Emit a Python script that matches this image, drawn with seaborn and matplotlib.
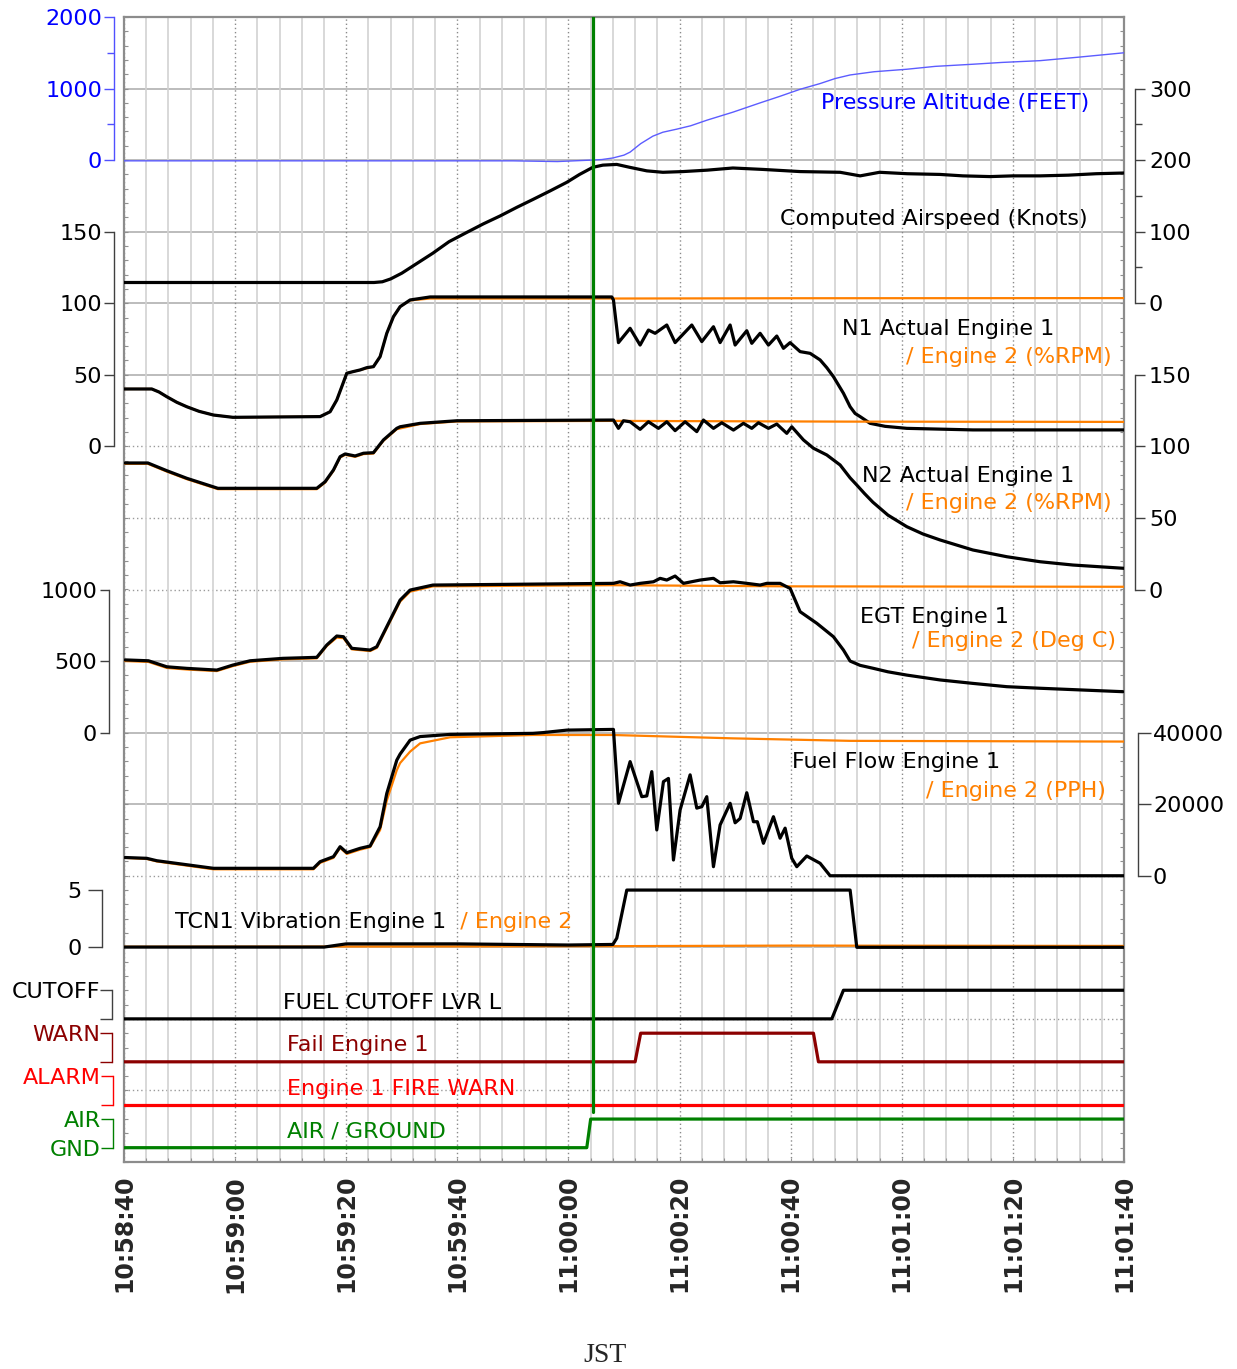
import matplotlib
matplotlib.use("Agg")
import matplotlib.pyplot as plt
import seaborn as sns
from matplotlib.ticker import MultipleLocator, NullLocator

# time in seconds after 10:58:40 JST
tick_secs = [0, 20, 40, 60, 80, 100, 120, 140, 160, 180]
tick_labels = ["10:58:40", "10:59:00", "10:59:20", "10:59:40", "11:00:00",
               "11:00:20", "11:00:40", "11:01:00", "11:01:20", "11:01:40"]
event_t = 84.4  # lift-off marker

# pressure altitude (feet)
alt_t = [0, 40, 70, 78, 84, 86, 88, 90, 91.1, 93, 95.2, 97, 99.5, 102, 105, 109.6, 114.5,
         118, 121.7, 125.3, 128, 130.7, 135, 140.9, 146, 152.8, 158, 164.9, 172, 180]
alt_ft = [-10, -10, -10, -20, 0, 8, 30, 70, 112, 230, 335, 390, 433, 480, 560, 670, 800,
          890, 990, 1070, 1140, 1190, 1235, 1270, 1310, 1340, 1365, 1390, 1440, 1500]

# computed airspeed (knots)
cas_t = [0, 45, 46.5, 48, 50, 52, 55.6, 58.5, 61.7, 64.7, 67.7, 70.7, 73.6, 76.7, 79.7, 82,
         84.4, 86.2, 88.7, 91, 94.1, 97, 100.6, 105, 109.6, 115, 121.7, 128.9, 132.5, 136,
         141, 146.9, 151, 155.9, 160, 164.9, 170, 175, 180]
cas_kt = [29, 29, 30, 34, 42, 52, 70, 86, 99, 111, 122, 134, 145, 157, 169, 180,
          190, 193, 194, 190, 185, 183, 184, 186, 189, 187, 184, 183, 178, 183,
          181, 180, 178, 177, 178, 178, 179, 181, 182]

# N1 (%RPM)
n1_t = [0, 5, 6.3, 7.7, 9.5, 11.3, 13.5, 16.1, 19.6, 35.3, 37.1, 38.3, 39.2, 40.1, 41.2,
        42.5, 43.7, 44.9, 46.1, 47.3, 48.5, 49.7, 51.5, 55.1, 87.8, 88.1, 89.0, 91.1, 92.9,
        94.4, 95.6, 97.7, 99.2, 102.2, 104.0, 106.1, 107.3, 109.1, 110.0, 112.1, 113.0,
        114.5, 116.0, 117.5, 118.7, 119.9, 121.7, 123.5, 125.3, 126.5, 127.7, 129.5, 130.7,
        131.6, 132.5, 134.3, 137, 140.9, 152.8, 180]
n1_e1 = [40.1, 40.1, 38.0, 34.7, 30.8, 27.7, 24.5, 21.9, 20.3, 20.8, 24.2, 32.4, 41.7, 51.1, 52.2,
         53.4, 55.0, 55.7, 62.7, 79.0, 90.6, 97.6, 102.3, 104.4, 104.4, 102.3, 72.5, 82.5, 70.8,
         81.3, 79.0, 84.8, 72.5, 84.8, 73.2, 83.6, 72.5, 84.8, 70.8, 80.8, 72.0,
         79.0, 70.8, 77.1, 68.5, 72.5, 66.2, 65.0, 60.4, 55.0, 48.7, 37.1, 27.7,
         23.0, 20.8, 16.1, 14.0, 12.6, 11.5, 11.5]
n1e2_t = [0, 5, 6.3, 7.7, 9.5, 11.3, 13.5, 16.1, 19.6, 35.3, 37.1, 38.3, 39.2, 40.1, 42.5,
          44.9, 46.1, 47.3, 48.5, 49.7, 51.5, 55.1, 88, 120, 180]
n1_e2 = [40.1, 40.1, 38.0, 34.7, 30.8, 27.7, 24.5, 21.9, 20.3, 20.8, 24.2, 32.4, 41.7, 51.1, 53.4,
         55.7, 62.7, 79.0, 90.6, 97.6, 102.0, 103.3, 103.3, 103.5, 103.6]

# N2 (%RPM)
n2_t = [0.2, 4.3, 7.7, 11.3, 16.9, 34.7, 36.2, 37.7, 38.9, 39.8, 41.6, 43.1, 44.9, 46.7,
        49.1, 49.7, 53.3, 59.9, 88.1, 89.0, 89.9, 91.1, 92.9, 94.4, 96.2, 97.7, 99.2,
        101.0, 103.1, 104.3, 106.1, 107.6, 109.7, 111.5, 113.0, 114.2, 116.0, 117.5,
        119.3, 120.2, 122.3, 124.1, 126.5, 128.9, 130.7, 131.9, 133.3, 134.8, 137.5, 140.9,
        143.8, 146.9, 152.8, 158.9, 164.9, 170.8, 180]
n2_e1 = [88.4, 88.4, 83.0, 77.7, 70.7, 70.7, 75.3, 83.5, 92.8, 94.7, 93.3, 95.2, 95.6, 104.5,
         112.6, 113.7, 116.1, 117.9, 118.4, 112.6, 117.9, 117.2, 111.9, 117.2, 112.6, 117.2,
         111.0, 117.2, 110.3, 118.4, 112.6, 116.5, 111.4, 116.1, 112.6, 116.5, 112.6, 115.6,
         109.1, 113.7, 104.5, 98.7, 94.0, 87.0, 78.0, 73.0, 67.0, 61.0, 52.0, 43.9,
         38.8, 34.6, 27.6, 22.9, 19.4, 17.1, 14.8]
n2e2_t = [0.2, 4.3, 7.7, 11.3, 16.9, 34.7, 36.2, 37.7, 38.9, 39.8, 41.6, 43.1, 44.9, 46.7,
          49.1, 53.3, 59.9, 88, 130, 180]
n2_e2 = [87.8, 87.8, 82.4, 77.1, 70.1, 70.1, 74.7, 82.9, 92.2, 94.1, 92.7, 94.6, 95.0, 103.9,
         112.0, 115.6, 117.4, 117.8, 117.3, 117.1]

# EGT (deg C)
egt_t = [0.2, 4.4, 7.7, 11.3, 16.7, 19.6, 22.7, 28.6, 34.7, 36.5, 38.3, 39.5, 41.0, 44.3,
         45.5, 47.3, 49.7, 51.5, 55.6, 88.1, 89.3, 91.1, 92.9, 95.3, 96.5, 97.7, 99.2,
         100.7, 103.7, 106.1, 107.3, 109.7, 112.1, 114.5, 115.7, 118.1, 119.3, 119.9,
         121.7, 124.7, 127.7, 129.5, 130.7, 132.5, 134.9, 137.5, 140.9, 146.9, 152.8,
         158.9, 164.9, 179.8]
egt_e1 = [508, 502, 460, 449, 437, 472, 502, 519, 526, 612, 675, 670, 589, 577,
          600, 740, 926, 996, 1031, 1043, 1054, 1031, 1043, 1054, 1078, 1066, 1094,
          1043, 1066, 1078, 1047, 1054, 1043, 1031, 1043, 1043, 1019, 1008,
          845, 764, 670, 577, 500, 470, 449, 425, 402, 368, 344,
          321, 310, 286]
egt2_t = [0.2, 4.4, 7.7, 11.3, 16.7, 19.6, 22.7, 28.6, 34.7, 36.5, 38.3, 39.5, 41.0, 44.3,
          45.5, 47.3, 49.7, 51.5, 55.6, 88, 120, 180]
egt_e2 = [500, 494, 452, 441, 430, 465, 495, 512, 519, 605, 664, 660, 582, 570,
          592, 730, 915, 985, 1022, 1030, 1022, 1019]

# fuel flow (PPH)
ff_t = [0.2, 4.1, 5.9, 16.1, 34.1, 35.3, 37.7, 38.9, 40.1, 42.5, 44.3, 46.1, 47.3, 49.1,
        49.7, 51.5, 53.3, 58.7, 73.6, 75.4, 79.7, 88.1, 89.0, 91.1, 93.2, 94.1, 95.0,
        95.9, 97.1, 98.0, 98.9, 100.1, 101.9, 103.1, 104.0, 104.9, 106.1, 107.3, 109.1,
        110.0, 110.9, 112.1, 113.3, 114.0, 115.1, 116.9, 118.1, 119.0, 120.2, 121.1,
        122.9, 125.3, 127.1, 180]
ff_e1 = [5100, 4870, 4200, 2080, 2080, 3930, 5330, 8120, 6450, 7670, 8310, 13700, 23000, 32300,
         34000, 37900, 38900, 39500, 39800, 40000, 40700, 40900, 20250, 31900, 22100, 22300, 29100,
         12800, 26300, 27200, 4400, 18400, 28200, 18900, 19300, 22100, 2530, 14200, 20250,
         14800, 16000, 23200, 15100, 15100, 9070, 16500, 10500, 13300, 4880, 2530,
         5520, 3480, 0, 0]
ff2_t = [0.2, 4.1, 5.9, 16.1, 34.1, 35.3, 37.7, 38.9, 40.1, 42.5, 44.3, 46.1, 47.3, 49.1,
         49.7, 51.5, 53.3, 58.7, 73.6, 88, 109.6, 130.7, 180]
ff_e2 = [5000, 4700, 4000, 1800, 1800, 3600, 5000, 7800, 6100, 7300, 8000, 12800, 21000, 29500,
         31500, 34700, 37000, 38700, 39340, 39340, 38400, 37700, 37500]

# TCN1 vibration
tcn_t = [0, 36, 40, 60, 80, 88.0, 88.7, 90.5, 130.7, 131.9, 180]
tcn_e1 = [0.02, 0.02, 0.3, 0.3, 0.2, 0.25, 0.8, 5.0, 5.0, 0.0, 0.0]
tcn2_t = [0, 60, 88, 120, 180]
tcn_e2 = [0.05, 0.08, 0.1, 0.15, 0.12]

# discrete parameters (0 = low state, 1 = high state)
cutoff_t = [0, 127.4, 129.5, 180]
cutoff = [0, 0, 1, 1]
warn_t = [0, 92.0, 93.0, 124.1, 125.0, 180]
warn = [0, 0, 1, 1, 0, 0]
alarm_t = [0, 180]
alarm = [0, 0]
airgnd_t = [0, 83.3, 84.0, 180]
airgnd = [0, 0, 1, 1]

ORANGE = "#ff8000"
BLUE = "#0000ff"
DARKRED = "#8b0000"
RED = "#ff0000"
GREEN = "#008000"
GRAY = "#404040"
PT = 0.72  # points per pixel at 100 dpi

sns.set_style("white")
plt.rcParams["font.family"] = ["DejaVu Sans"]

fig = plt.figure(figsize=(12.37, 13.69), dpi=100)
ax = fig.add_axes([124 / 1237, 207 / 1369, 1000 / 1237, 1145 / 1369])
ax.set_xlim(0, 180)
ax.set_ylim(0, 16)


def band(side, u0, per_unit, ticks, labels, color, spine_color, offset, tlen, pad, minor=None):
    b = ax.twinx()
    b.set_ylim(-u0 * per_unit, (16 - u0) * per_unit)
    for sp in b.spines.values():
        sp.set_visible(False)
    sp = b.spines[side]
    sp.set_visible(True)
    sp.set_bounds(ticks[0], ticks[-1])
    sp.set_position(("outward", offset * PT))
    sp.set_color(spine_color)
    sp.set_linewidth(1.0)
    if side == "left":
        b.yaxis.tick_left()
    else:
        b.yaxis.tick_right()
    b.set_yticks(ticks)
    b.set_yticklabels(labels)
    b.tick_params(axis="y", which="major", direction="out", length=tlen * PT, width=1.0,
                  color=spine_color, labelcolor=color, labelsize=16, pad=pad * PT)
    if minor:
        b.set_yticks(minor, minor=True)
        b.tick_params(axis="y", which="minor", direction="out", length=7 * PT, width=1.0,
                      color=spine_color)
    else:
        b.yaxis.set_minor_locator(NullLocator())
    b.grid(False)
    return b


def trace(b, x, y, color, lw):
    sns.lineplot(x=x, y=y, ax=b, color=color, linewidth=lw, estimator=None, sort=False)


b_alt = band("left", 14, 1000, [0, 1000, 2000], ["0", "1000", "2000"], BLUE, "#5050ff",
             10, 10, 2, minor=[500, 1500])
trace(b_alt, alt_t, alt_ft, "#5c5cff", 1.0)

b_cas = band("right", 12, 100, [0, 100, 200, 300], ["0", "100", "200", "300"], "black", GRAY,
             11, 10, 4, minor=[50, 150, 250])
trace(b_cas, cas_t, cas_kt, "black", 2.3)

b_n1 = band("left", 10, 50, [0, 50, 100, 150], ["0", "50", "100", "150"], "black", GRAY, 10, 10, 2)
trace(b_n1, n1e2_t, n1_e2, ORANGE, 1.6)
trace(b_n1, n1_t, n1_e1, "black", 2.3)

b_n2 = band("right", 8, 50, [0, 50, 100, 150], ["0", "50", "100", "150"], "black", GRAY, 11, 10, 4)
trace(b_n2, n2e2_t, n2_e2, ORANGE, 1.6)
trace(b_n2, n2_t, n2_e1, "black", 2.3)

b_egt = band("left", 6, 500, [0, 500, 1000], ["0", "500", "1000"], "black", GRAY, 15, 9, 3)
trace(b_egt, egt2_t, egt_e2, ORANGE, 1.6)
trace(b_egt, egt_t, egt_e1, "black", 2.3)

b_ff = band("right", 4, 20000, [0, 20000, 40000], ["0", "20000", "40000"], "black", GRAY, 14, 13, 2)
trace(b_ff, ff2_t, ff_e2, ORANGE, 1.6)
trace(b_ff, ff_t, ff_e1, "black", 2.3)

b_tcn = band("left", 3, 6.25, [0, 5], ["0", "5"], "black", GRAY, 22, 14, 6)
trace(b_tcn, tcn2_t, tcn_e2, ORANGE, 1.6)
trace(b_tcn, tcn_t, tcn_e1, "black", 2.3)

b_cut = band("left", 2.0, 2.5, [0, 1], ["", "CUTOFF"], "black", GRAY, 12, 12, 0)
trace(b_cut, cutoff_t, cutoff, "black", 2.3)

b_warn = band("left", 1.4, 2.5, [0, 1], ["", "WARN"], DARKRED, DARKRED, 12, 12, 0)
trace(b_warn, warn_t, warn, DARKRED, 2.3)

b_alarm = band("left", 0.8, 2.5, [0, 1], ["", "ALARM"], RED, RED, 11, 12, 0)
trace(b_alarm, alarm_t, alarm, RED, 2.3)

b_air = band("left", 0.2, 2.5, [0, 1], ["GND", "AIR"], GREEN, GREEN, 11, 12, 0)
trace(b_air, airgnd_t, airgnd, GREEN, 2.3)
b_air.axvline(event_t, ymin=0.7 / 16, ymax=1, color=GREEN, linewidth=2.3)

# grid of the main strip chart
dotted_rows = [1, 2, 4, 8, 9, 10]
for u in range(1, 16):
    if u in dotted_rows:
        ax.axhline(u, color="#9a9a9a", linewidth=1.0, linestyle=(0, (1, 2)), zorder=0)
    else:
        ax.axhline(u, color="#b0b0b0", linewidth=1.2, zorder=0)
ax.set_xticks(tick_secs)
ax.set_xticklabels(tick_labels, rotation=90, fontsize=17, fontweight="bold")
ax.xaxis.set_minor_locator(MultipleLocator(4))
ax.grid(which="minor", axis="x", color="#d2d2d2", linewidth=1.2)
ax.grid(which="major", axis="x", color="#8a8a8a", linewidth=1.0, linestyle=(0, (1, 2)))
ax.grid(False, axis="y")
ax.set_yticks([])
ax.yaxis.set_minor_locator(MultipleLocator(0.2))
ax.tick_params(axis="y", which="minor", left=True, right=True, direction="in",
               length=4 * PT, width=0.8, color="#909090")
ax.tick_params(axis="x", which="both", bottom=True, direction="in", length=4 * PT,
               width=0.8, color="#909090", pad=13 * PT)
for sp in ax.spines.values():
    sp.set_color("#8c8c8c")
    sp.set_linewidth(1.6)

# trace titles
fs = 16
ax.text(173.7, 14.80, "Pressure Altitude (FEET)", color=BLUE, fontsize=fs, ha="right", va="center")
ax.text(173.5, 13.18, "Computed Airspeed (Knots)", color="black", fontsize=fs, ha="right", va="center")
ax.text(129.2, 11.64, "N1 Actual Engine 1", color="black", fontsize=fs, ha="left", va="center")
ax.text(177.8, 11.25, "/ Engine 2 (%RPM)", color=ORANGE, fontsize=fs, ha="right", va="center")
ax.text(132.8, 9.59, "N2 Actual Engine 1", color="black", fontsize=fs, ha="left", va="center")
ax.text(177.8, 9.21, "/ Engine 2 (%RPM)", color=ORANGE, fontsize=fs, ha="right", va="center")
ax.text(132.5, 7.62, "EGT Engine 1", color="black", fontsize=fs, ha="left", va="center")
ax.text(178.6, 7.28, "/ Engine 2 (Deg C)", color=ORANGE, fontsize=fs, ha="right", va="center")
ax.text(120.2, 5.59, "Fuel Flow Engine 1", color="black", fontsize=fs, ha="left", va="center")
ax.text(176.8, 5.18, "/ Engine 2 (PPH)", color=ORANGE, fontsize=fs, ha="right", va="center")
tcn_label = ax.text(9.2, 3.35, "TCN1 Vibration Engine 1", color="black", fontsize=fs,
                    ha="left", va="center")
ax.annotate("  / Engine 2", xy=(1, 0.5), xycoords=tcn_label, color=ORANGE, fontsize=fs,
            ha="left", va="center")
ax.text(28.6, 2.22, "FUEL CUTOFF LVR L", color="black", fontsize=fs, ha="left", va="center")
ax.text(29.3, 1.63, "Fail Engine 1", color=DARKRED, fontsize=fs, ha="left", va="center")
ax.text(29.3, 1.02, "Engine 1 FIRE WARN", color=RED, fontsize=fs, ha="left", va="center")
ax.text(29.3, 0.42, "AIR / GROUND", color=GREEN, fontsize=fs, ha="left", va="center")

ax.set_xlim(0, 180)
fig.text(605 / 1237, 1 - 1355 / 1369, "JST", family="Liberation Serif", fontsize=20,
         ha="center", va="center")

fig.savefig("out.png", dpi=100)
